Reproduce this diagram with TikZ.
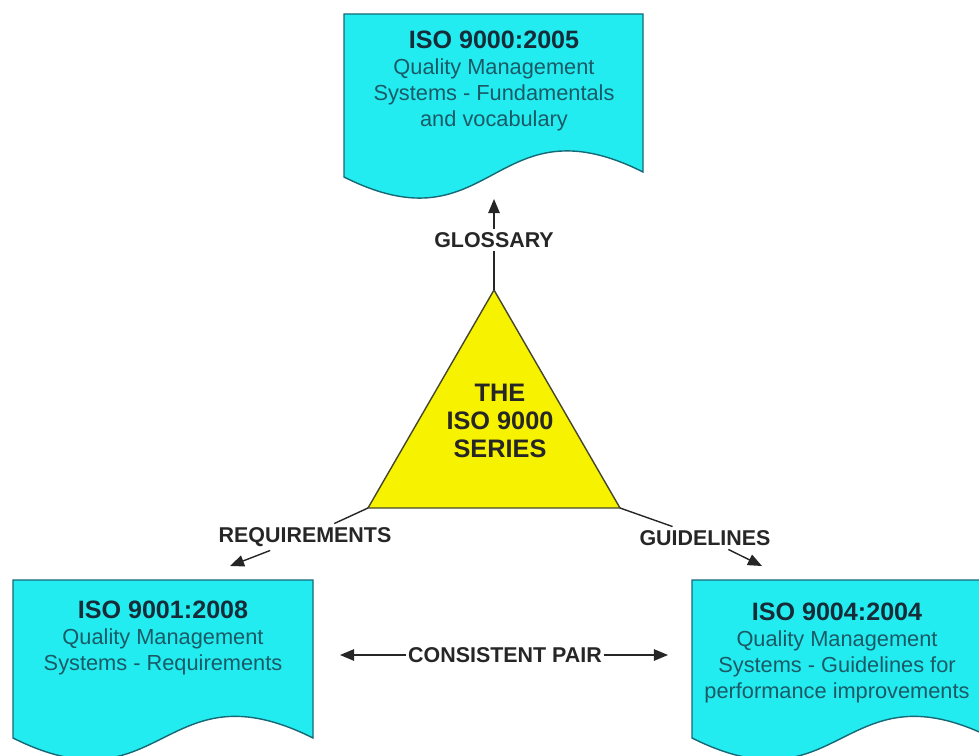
\documentclass[tikz,border=0pt]{standalone}
\usepackage{fontspec}
\setmainfont{Liberation Sans}
\usetikzlibrary{arrows.meta}
\definecolor{doccyan}{RGB}{34,236,240}
\definecolor{docedge}{RGB}{22,105,118}
\definecolor{doctitle}{RGB}{22,44,56}
\definecolor{docbody}{RGB}{26,90,102}
\definecolor{triyellow}{RGB}{246,242,0}
\definecolor{triedge}{RGB}{70,70,45}
\definecolor{lblgray}{RGB}{38,38,38}
\begin{document}
\begin{tikzpicture}[x=0.02cm, y=-0.02cm, every node/.style={align=center},
  docbox/.style={draw=docedge, fill=doccyan, line width=0.8pt},
  doctext/.style={text=docbody, font=\fontsize{12.4}{14.7}\selectfont},
  lbl/.style={font=\fontsize{12.2}{14}\selectfont\bfseries, text=lblgray, inner sep=2pt},
  ln/.style={draw=lblgray, line width=0.8pt},
  arr/.style={ln, -{Triangle[length=8pt,width=6.5pt]}}]
\def\ttl#1{{\fontsize{14.3}{14.7}\selectfont\bfseries\color{doctitle}#1}}
\useasboundingbox (0,0) rectangle (979,756);
\draw[docbox] (344,14) -- (643,14) -- (643,172) .. controls (493,97) and (493,252) .. (344,177) -- cycle;
\node[doctext] (iso9000) at (494,81) {\ttl{ISO 9000:2005}\\Quality Management\\Systems - Fundamentals\\and vocabulary};
\draw[docbox] (13,580) -- (313,580) -- (313,738) .. controls (163,663) and (163,813) .. (13,738) -- cycle;
\node[doctext] (iso9001) at (163,638) {\ttl{ISO 9001:2008}\\Quality Management\\Systems - Requirements};
\draw[docbox] (692,580) -- (992,580) -- (992,738) .. controls (842,663) and (842,813) .. (692,738) -- cycle;
\node[doctext] (iso9004) at (837,653) {\ttl{ISO 9004:2004}\\Quality Management\\Systems - Guidelines for\\performance improvements};

\coordinate (apex) at (494,290);
\coordinate (tl) at (368,508);
\coordinate (tr) at (620,508);
\draw[draw=triedge, fill=triyellow, line width=0.8pt] (apex) -- (tl) -- (tr) -- cycle;
\node[font=\fontsize{14.4}{15.9}\selectfont\bfseries, text=lblgray] (series) at (500,421) {THE\\ISO 9000\\SERIES};

\node[lbl] (glossary) at (494,240) {GLOSSARY};
\coordinate (topdoc) at (494,199);
\draw[ln] (apex) -- (glossary);
\draw[arr] (glossary) -- (topdoc);

\node[lbl] (req) at (305,537) {REQUIREMENTS};
\coordinate (reqend) at (230,566);
\draw[ln] (tl) -- (req);
\draw[arr] (req) -- (reqend);

\node[lbl] (guide) at (705,538) {GUIDELINES};
\coordinate (guideend) at (762,566);
\draw[ln] (tr) -- (guide);
\draw[arr] (guide) -- (guideend);

\node[lbl, inner sep=1pt] (pair) at (505,655) {CONSISTENT PAIR};
\coordinate (pairl) at (340,655);
\coordinate (pairr) at (668,655);
\draw[arr] (pair) -- (pairl);
\draw[arr] (pair) -- (pairr);
\end{tikzpicture}
\end{document}
